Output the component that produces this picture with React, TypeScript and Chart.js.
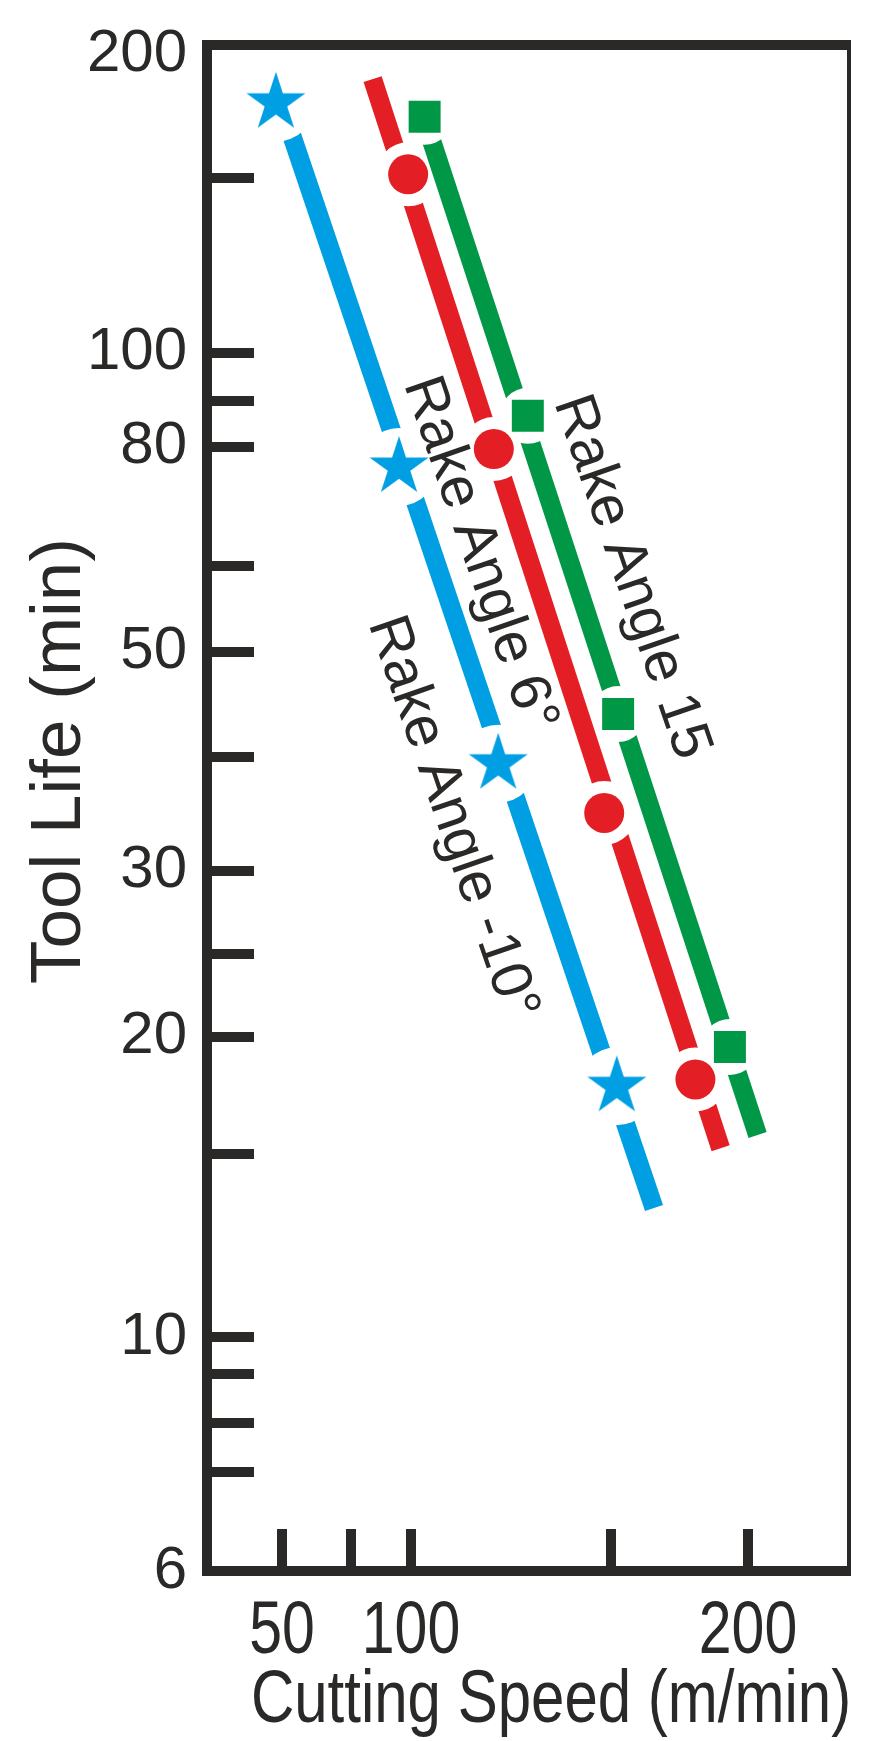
import React, { useEffect, useRef } from 'react';
import { Chart, registerables, LinearScale, LogarithmicScale } from 'chart.js';

Chart.register(...registerables);

// ---------------- data ----------------
const X_TICKS = [50, 75, 100, 150, 200];
const X_TICK_LABELS = [50, 100, 200];
const Y_TICKS = [6, 7, 8, 9, 10, 15, 20, 25, 30, 40, 50, 60, 80, 90, 100, 150, 200];
const Y_TICK_LABELS = [6, 10, 20, 30, 50, 80, 100, 200];

const SERIES_NAMES = ['Rake Angle -10°', 'Rake Angle 6°', 'Rake Angle 15'];

// measured points (cutting speed m/min, tool life min)
const BLUE_SPEED = [47.8, 95.0, 121.8, 152.1];
const BLUE_LIFE = [178.6, 76.2, 39.3, 17.7];
const RED_SPEED = [98.8, 120.7, 148.3, 180.8];
const RED_LIFE = [151.3, 79.6, 34.7, 18.0];
const GREEN_SPEED = [103.4, 129.2, 152.6, 193.4];
const GREEN_LIFE = [172.9, 86.6, 43.8, 19.5];

// fitted lines (start, end)
const BLUE_FIT_SPEED = [53.5, 165.7];
const BLUE_FIT_LIFE = [165.7, 13.3];
const RED_FIT_SPEED = [84.0, 190.0];
const RED_FIT_LIFE = [188.7, 15.2];
const GREEN_FIT_SPEED = [104.8, 203.5];
const GREEN_FIT_LIFE = [165.2, 15.7];

// in-plot label anchors (speed, life)
const LABEL_SPEED = [106.5, 113.3, 151.8];
const LABEL_LIFE = [33.8, 60.9, 57.9];

// ---------------- axis layout (hand-drawn, non-uniform axes) ----------------
const AXIS_X_VALUES = [22.8, 50, 75, 100, 150, 200, 236.9];
const AXIS_X_FRACTIONS = [0, 0.1168, 0.2243, 0.3178, 0.6293, 0.8427, 1];
const AXIS_Y_VALUES = [6, 7, 8, 9, 10, 15, 20, 25, 30, 40, 50, 60, 80, 90, 100, 150, 200, 204.2];
const AXIS_Y_FRACTIONS = [0, 0.0649, 0.0971, 0.1293, 0.1533, 0.2735, 0.3502, 0.4043, 0.459, 0.5336, 0.6024, 0.6588, 0.7366, 0.7669, 0.7984, 0.9128, 0.9941, 1];

// ---------------- styles ----------------
const DARK = '#2b2927';
const BLUE = '#009fe3';
const RED = '#e31e24';
const GREEN = '#009846';
const FONT = "'Liberation Sans', Arial, Helvetica, sans-serif";
const X_TEXT_STRETCH = 1.25;

function interp(v: number, vs: number[], fs: number[]): number {
  let i = 1;
  while (i < vs.length - 1 && v > vs[i]) i++;
  const t = (v - vs[i - 1]) / (vs[i] - vs[i - 1]);
  return fs[i - 1] + t * (fs[i] - fs[i - 1]);
}
const LOG_Y_VALUES = AXIS_Y_VALUES.map((v) => Math.log10(v));

class PiecewiseScale extends (LinearScale as any) {
  static id = 'piecewise';
  static defaults = (LinearScale as any).defaults;
  getPixelForValue(value: any) {
    if (value === null || value === undefined || isNaN(value)) return NaN;
    return (this as any).getPixelForDecimal(interp(+value, AXIS_X_VALUES, AXIS_X_FRACTIONS));
  }
  getValueForPixel(pixel: number) {
    return interp((this as any).getDecimalForPixel(pixel), AXIS_X_FRACTIONS, AXIS_X_VALUES);
  }
}

class PiecewiseLogScale extends (LogarithmicScale as any) {
  static id = 'piecewiseLog';
  static defaults = (LogarithmicScale as any).defaults;
  getPixelForValue(value: any) {
    if (value === null || value === undefined || isNaN(value) || value <= 0) return NaN;
    return (this as any).getPixelForDecimal(interp(Math.log10(+value), LOG_Y_VALUES, AXIS_Y_FRACTIONS));
  }
  getValueForPixel(pixel: number) {
    return Math.pow(10, interp((this as any).getDecimalForPixel(pixel), AXIS_Y_FRACTIONS, LOG_Y_VALUES));
  }
}
Chart.register(PiecewiseScale as any, PiecewiseLogScale as any);

function makeStar(R: number, color: string): HTMLCanvasElement {
  const size = Math.ceil(2 * R + 4);
  const c = document.createElement('canvas');
  c.width = size;
  c.height = size;
  const g = c.getContext('2d')!;
  g.fillStyle = color;
  g.beginPath();
  const r = R * 0.382;
  for (let k = 0; k < 10; k++) {
    const ang = -Math.PI / 2 + (k * Math.PI) / 5;
    const rad = k % 2 === 0 ? R : r;
    const x = size / 2 + rad * Math.cos(ang);
    const y = size / 2 + rad * Math.sin(ang);
    if (k === 0) g.moveTo(x, y);
    else g.lineTo(x, y);
  }
  g.closePath();
  g.fill();
  return c;
}

const pts = (xs: number[], ys: number[]) => xs.map((x, i) => ({ x, y: ys[i] }));

const gapPlugin = {
  id: 'gaps',
  beforeDatasetDraw(chart: any, args: any) {
    const ds = chart.data.datasets[args.index];
    if (!ds.gapMarkers) return;
    const ctx = chart.ctx;
    const xs = chart.scales.x, ys = chart.scales.y;
    ctx.save();
    ctx.beginPath();
    ctx.rect(0, 0, chart.width, chart.height);
    for (const p of ds.gapMarkers) {
      const px = xs.getPixelForValue(p.x);
      const py = ys.getPixelForValue(p.y);
      ctx.moveTo(px + ds.gapRadius, py);
      ctx.arc(px, py, ds.gapRadius, 0, Math.PI * 2, true);
    }
    ctx.clip('evenodd');
  },
  afterDatasetDraw(chart: any, args: any) {
    const ds = chart.data.datasets[args.index];
    if (ds.gapMarkers) chart.ctx.restore();
  },
};

function stretchedText(ctx: CanvasRenderingContext2D, text: string, x: number, y: number) {
  ctx.save();
  ctx.translate(x, y);
  ctx.scale(1, X_TEXT_STRETCH);
  ctx.fillText(text, 0, 0);
  ctx.restore();
}

const decorPlugin = {
  id: 'decor',
  afterDraw(chart: any) {
    const ctx = chart.ctx;
    const a = chart.chartArea;
    const L = a.left, T = a.top, R = a.right, B = a.bottom;
    const xs = chart.scales.x, ys = chart.scales.y;
    ctx.save();
    ctx.fillStyle = DARK;
    // frame
    ctx.fillRect(L - 5, T - 5, R + 2 - (L - 5), 10);
    ctx.fillRect(L - 5, T - 5, 10, B + 5 - (T - 5));
    ctx.fillRect(L - 5, B - 5, R + 2 - (L - 5), 10);
    ctx.fillRect(R - 2, T - 5, 4, B + 5 - (T - 5));

    ctx.textAlign = 'center';
    ctx.textBaseline = 'alphabetic';

    // x tick labels
    ctx.font = `59px ${FONT}`;
    X_TICK_LABELS.forEach((v) => {
      stretchedText(ctx, String(v), xs.getPixelForValue(v), B + 82);
    });

    // axis titles
    ctx.font = `71px ${FONT}`;
    ctx.save();
    ctx.translate(80, 761);
    ctx.rotate(-Math.PI / 2);
    ctx.fillText('Tool Life (min)', 0, 0);
    ctx.restore();
    ctx.font = `60px ${FONT}`;
    stretchedText(ctx, 'Cutting Speed (m/min)', 551, 1722);

    // series labels along the lines
    ctx.font = `58px ${FONT}`;
    SERIES_NAMES.forEach((name, i) => {
      const px = xs.getPixelForValue(LABEL_SPEED[i]);
      const py = ys.getPixelForValue(LABEL_LIFE[i]);
      ctx.save();
      ctx.translate(px, py);
      ctx.rotate((71 * Math.PI) / 180);
      ctx.fillText(name, 0, 0);
      ctx.restore();
    });
    ctx.restore();
  },
};

export default function App() {
  const ref = useRef<HTMLCanvasElement>(null);
  useEffect(() => {
    if (!ref.current) return;
    Chart.defaults.font.family = FONT;
    Chart.defaults.color = DARK;
    const star = makeStar(31, BLUE);
    const blueMarks = pts(BLUE_SPEED, BLUE_LIFE);
    const redMarks = pts(RED_SPEED, RED_LIFE);
    const greenMarks = pts(GREEN_SPEED, GREEN_LIFE);
    const lineBase = {
      showLine: true,
      pointRadius: 0,
      borderWidth: 19,
      borderCapStyle: 'butt',
      fill: false,
      tension: 0,
      order: 2,
    };
    const chart = new Chart(ref.current, {
      type: 'scatter',
      data: {
        datasets: [
          { ...lineBase, label: SERIES_NAMES[0] + ' fit', data: pts(BLUE_FIT_SPEED, BLUE_FIT_LIFE), borderColor: BLUE, gapMarkers: blueMarks, gapRadius: 39 } as any,
          { ...lineBase, label: SERIES_NAMES[1] + ' fit', data: pts(RED_FIT_SPEED, RED_FIT_LIFE), borderColor: RED, gapMarkers: redMarks, gapRadius: 32 } as any,
          { ...lineBase, label: SERIES_NAMES[2] + ' fit', data: pts(GREEN_FIT_SPEED, GREEN_FIT_LIFE), borderColor: GREEN, gapMarkers: greenMarks, gapRadius: 28 } as any,
          { label: SERIES_NAMES[0], data: blueMarks, pointStyle: star, pointRadius: 31, backgroundColor: BLUE, borderWidth: 0, order: 0 } as any,
          { label: SERIES_NAMES[1], data: redMarks, pointStyle: 'circle', pointRadius: 20, backgroundColor: RED, borderWidth: 0, order: 0 } as any,
          { label: SERIES_NAMES[2], data: greenMarks, pointStyle: 'rect', pointRadius: 22.6, backgroundColor: GREEN, borderWidth: 0, order: 0 } as any,
        ],
      },
      options: {
        responsive: false,
        animation: false,
        devicePixelRatio: 1,
        layout: { padding: { top: 45, right: 39, left: 0, bottom: 0 } },
        plugins: { legend: { display: false }, tooltip: { enabled: false } },
        scales: {
          x: {
            type: 'piecewise' as any,
            min: AXIS_X_VALUES[0],
            max: AXIS_X_VALUES[AXIS_X_VALUES.length - 1],
            afterBuildTicks: (s: any) => { s.ticks = X_TICKS.map((v) => ({ value: v })); },
            afterFit: (s: any) => {
              s.height = 170;
              s.paddingLeft = 0; s.paddingRight = 0; s.paddingTop = 0; s.paddingBottom = 0;
            },
            border: { display: false },
            grid: { drawOnChartArea: false, drawTicks: true, tickLength: -42, lineWidth: 10, tickWidth: 10, color: DARK, tickColor: DARK },
            ticks: {
              display: false, autoSkip: false, maxRotation: 0, minRotation: 0,
              callback: (v: any) => (X_TICK_LABELS.includes(+v) ? String(v) : ''),
            },
          } as any,
          y: {
            type: 'piecewiseLog' as any,
            min: AXIS_Y_VALUES[0],
            max: AXIS_Y_VALUES[AXIS_Y_VALUES.length - 1],
            afterBuildTicks: (s: any) => { s.ticks = Y_TICKS.map((v) => ({ value: v })); },
            afterFit: (s: any) => {
              s.width = 207;
              s.paddingLeft = 0; s.paddingRight = 0; s.paddingTop = 0; s.paddingBottom = 0;
            },
            border: { display: false },
            grid: {
              drawOnChartArea: false, drawTicks: true, tickLength: -47, lineWidth: 10, tickWidth: 10,
              color: (c: any) => (c.tick && c.tick.value === 200 ? 'rgba(0,0,0,0)' : DARK),
              tickColor: (c: any) => (c.tick && c.tick.value === 200 ? 'rgba(0,0,0,0)' : DARK),
            },
            ticks: {
              autoSkip: false, padding: 67, color: DARK,
              font: { size: 60, family: FONT },
              callback: (v: any) => (Y_TICK_LABELS.includes(+v) ? String(v) : ''),
            },
          } as any,
        },
      },
      plugins: [gapPlugin, decorPlugin],
    } as any);
    return () => chart.destroy();
  }, []);
  return (
    <div style={{ position: 'absolute', left: 0, top: 0, width: 888, height: 1741, background: '#fff' }}>
      <canvas ref={ref} width={888} height={1741} style={{ display: 'block', width: 888, height: 1741 }} />
    </div>
  );
}
